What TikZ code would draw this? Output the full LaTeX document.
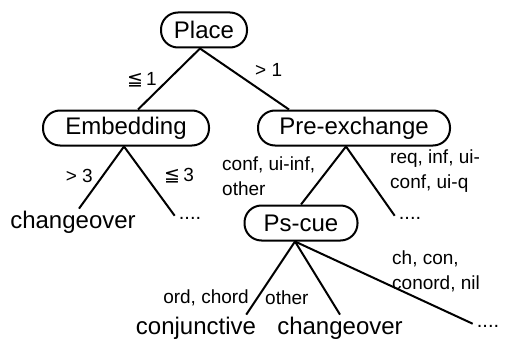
\documentclass[tikz,border=0pt]{standalone}
\usepackage{fontspec}
\setmainfont{Liberation Sans}
\newfontfamily\symfont{DejaVu Sans}
\usetikzlibrary{positioning}

\newcommand{\leqs}{{\symfont ≦}}

\begin{document}
\begin{tikzpicture}[
  x=1pt, y=-1pt,
  attr/.style={draw, line width=2pt, rounded corners=17pt, minimum height=35pt,
               inner sep=2pt, font=\fontsize{24}{26}\selectfont},
  leaf/.style={inner sep=2pt, font=\fontsize{24}{26}\selectfont},
  dots/.style={inner sep=1pt, font=\fontsize{20}{22}\selectfont},
  val/.style={inner sep=1pt, align=left, font=\fontsize{19}{25}\selectfont},
  branch/.style={line width=2pt}
]
  \useasboundingbox (0,0) rectangle (506,345);

  % attribute nodes
  \node[attr, minimum width=86pt]  (place) at (204,30)  {Place};
  \node[attr, minimum width=166pt] (embed) at (126,128) {Embedding};
  \node[attr, minimum width=192pt] (preex) at (354,128) {Pre-exchange};
  \node[attr, minimum width=113pt] (pscue) at (301,223) {Ps-cue};

  % leaves
  \node[leaf] (chg1) at (73,222)  {changeover};
  \node[dots] (dta)  at (190,218) {....};
  \node[dots] (dtb)  at (410,218) {....};
  \node[leaf] (conj) at (196,328) {conjunctive};
  \node[leaf] (chg2) at (340,328) {changeover};
  \node[dots] (dtc)  at (488,326) {....};

  % branches
  \draw[branch] ([xshift=-4pt]place.south) -- ([xshift=12pt]embed.north);
  \draw[branch] ([xshift=-4pt]place.south) -- ([xshift=32pt]preex.north west);
  \draw[branch] ([xshift=-2pt]embed.south) -- ([xshift=6pt]chg1.north);
  \draw[branch] ([xshift=-2pt]embed.south) -- ([xshift=-3pt]dta.north west);
  \draw[branch] ([xshift=-8pt]preex.south) -- (pscue.north);
  \draw[branch] ([xshift=-8pt]preex.south) -- ([xshift=-3pt]dtb.north west);
  \draw[branch] ([xshift=-6pt]pscue.south) -- ([xshift=-12pt]conj.north east);
  \draw[branch] ([xshift=-6pt]pscue.south) -- (chg2.north);
  \draw[branch] ([xshift=-6pt]pscue.south) -- ([xshift=-3pt]dtc.north west);

  % branch values
  \node[val, anchor=east] (v1) at (158,80)  {\leqs\,1};
  \node[val, anchor=west] (v2) at (254,70)  {> 1};
  \node[val, anchor=east] (v3) at (94,176)  {> 3};
  \node[val, anchor=west] (v4) at (163,176) {\leqs\,3};
  \node[val, anchor=west] (v5) at (221,176) {conf, ui-inf,\\other};
  \node[val, anchor=west] (v6) at (389,171) {req, inf, ui-\\conf, ui-q};
  \node[val, anchor=west] (v7) at (391,271) {ch, con,\\conord, nil};
  \node[val, anchor=east] (v8) at (250,298) {ord, chord};
  \node[val, anchor=west] (v9) at (264,298) {other};
\end{tikzpicture}
\end{document}
